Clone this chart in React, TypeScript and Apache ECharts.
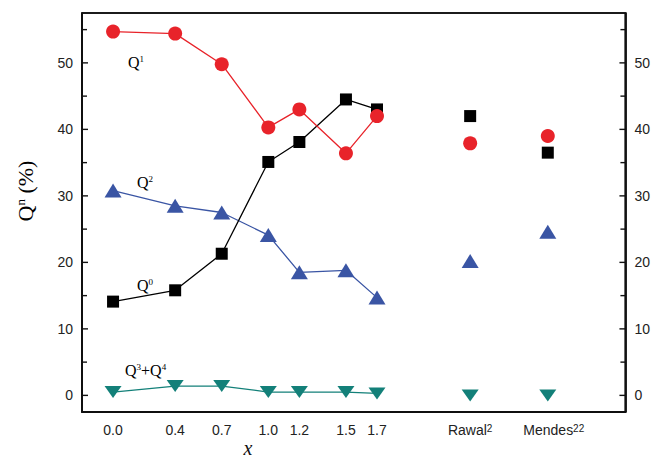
import React, { useEffect, useRef } from "react";
import * as echarts from "echarts";

// x positions of the composition series
const xValues = [0.0, 0.4, 0.7, 1.0, 1.2, 1.5, 1.7];
// reference data positions on the same axis
const refX = [2.3, 2.8];
const refNames = ["Rawal", "Mendes"];
const refSup = ["2", "22"];

// Q^n (%) values
const q0 = [14.1, 15.8, 21.3, 35.1, 38.1, 44.5, 43.0];
const q1 = [54.7, 54.4, 49.8, 40.3, 43.0, 36.4, 42.0];
const q2 = [30.8, 28.5, 27.5, 24.1, 18.5, 18.8, 14.7];
const q34 = [0.5, 1.4, 1.4, 0.5, 0.5, 0.5, 0.3];

const q0Ref = [42.0, 36.5];
const q1Ref = [37.9, 39.0];
const q2Ref = [20.2, 24.6];
const q34Ref = [0.0, 0.0];

const yLabels = [0, 10, 20, 30, 40, 50];
const yTicks = [0, 5, 10, 15, 20, 25, 30, 35, 40, 45, 50, 55];

const X_MIN = -0.2;
const X_MAX = 3.3;
const Y_MIN = -2.5;
const Y_MAX = 57.5;

const RED = "#e8232a";
const BLUE = "#3a55a4";
const TEAL = "#138079";
const BLACK = "#000000";

const SERIF = "'Liberation Serif', 'Times New Roman', serif";

export default function App() {
  const ref = useRef<HTMLDivElement>(null);
  useEffect(() => {
    document.body.style.margin = "0";
    const chart = echarts.init(ref.current!, null, { renderer: "svg" });

    const xFormatter = (v: number) => {
      const k = Math.round(v * 10);
      for (let i = 0; i < xValues.length; i++) {
        if (Math.round(xValues[i] * 10) === k) return xValues[i].toFixed(1);
      }
      for (let i = 0; i < refX.length; i++) {
        if (Math.round(refX[i] * 10) === k) {
          const pad = i === 1 ? "{sp|}" : "";
          return pad + "{a|" + refNames[i] + "}{s|" + refSup[i] + "}";
        }
      }
      return "";
    };

    const lineSeries = (data: number[], color: string, symbol: string, size: any, rotate = 0) => ({
      type: "line",
      data: xValues.map((x, i) => [x, data[i]]),
      symbol,
      symbolSize: size,
      symbolRotate: rotate,
      showSymbol: true,
      itemStyle: { color, opacity: 1 },
      lineStyle: { color, width: 1.3 },
    });
    const refSeries = (data: number[], color: string, symbol: string, size: any, rotate = 0) => ({
      type: "line",
      data: refX.map((x, i) => [x, data[i]]),
      symbol,
      symbolSize: size,
      symbolRotate: rotate,
      showSymbol: true,
      itemStyle: { color, opacity: 1 },
      lineStyle: { color, width: 0, opacity: 0 },
    });

    const yAxisBase = (position: string) => ({
      type: "value",
      position,
      min: Y_MIN,
      max: Y_MAX,
      axisLine: { show: true, onZero: false, lineStyle: { color: "black", width: 1.6 } },
      axisTick: { show: false },
      axisLabel: { customValues: yLabels, fontSize: 14, color: "#222222", margin: 9 },
      splitLine: { show: false },
    });

    chart.setOption({
      animation: false,
      grid: { left: 82, right: 26, top: 13, bottom: 47, show: true, borderColor: "black", borderWidth: 1.6 },
      xAxis: {
        type: "value",
        min: X_MIN,
        max: X_MAX,
        interval: 0.1,
        axisLine: { show: true, onZero: false, lineStyle: { color: "black", width: 1.6 } },
        splitLine: { show: false },
        axisTick: { show: false },
        axisLabel: {
          formatter: xFormatter,
          fontSize: 14,
          color: "#222222",
          margin: 11,
          rich: {
            a: { fontSize: 14, color: "#222222" },
            s: { fontSize: 10, color: "#222222", verticalAlign: "top" },
            sp: { width: 12 },
          },
        },
      },
      yAxis: [yAxisBase("left"), yAxisBase("right")],
      series: [
        lineSeries(q2, BLUE, "triangle", [17, 14]),
        refSeries(q2Ref, BLUE, "triangle", [17, 14]),
        lineSeries(q0, BLACK, "rect", 12),
        refSeries(q0Ref, BLACK, "rect", 12),
        lineSeries(q34, TEAL, "triangle", [17, 12], 180),
        refSeries(q34Ref, TEAL, "triangle", [17, 12], 180),
        lineSeries(q1, RED, "circle", 14),
        refSeries(q1Ref, RED, "circle", 14),
      ],
    });

    // frame edges and inward ticks, positioned through the chart's own scales
    const px = (x: number, y: number) => chart.convertToPixel({ gridIndex: 0 }, [x, y]) as number[];
    const frameStyle = { stroke: "#111111", lineWidth: 1.6 };
    const tickStyle = { stroke: "#111111", lineWidth: 1.4 };
    const bl = px(X_MIN, Y_MIN);
    const tl = px(X_MIN, Y_MAX);
    const br = px(X_MAX, Y_MIN);
    const tr = px(X_MAX, Y_MAX);
    const frame: any[] = [
      { type: "line", z: 100, shape: { x1: bl[0], y1: bl[1], x2: tl[0], y2: tl[1] }, style: frameStyle },
      { type: "line", z: 100, shape: { x1: br[0], y1: br[1], x2: tr[0], y2: tr[1] }, style: frameStyle },
      { type: "line", z: 100, shape: { x1: tl[0], y1: tl[1], x2: tr[0], y2: tr[1] }, style: frameStyle },
      { type: "line", z: 100, shape: { x1: bl[0], y1: bl[1], x2: br[0], y2: br[1] }, style: frameStyle },
    ];
    const ticks: any[] = [];
    yTicks.forEach((t) => {
      const len = t % 10 === 0 ? 6 : 5;
      const l = px(X_MIN, t);
      const r = px(X_MAX, t);
      ticks.push({ type: "line", z: 100, shape: { x1: l[0], y1: l[1], x2: l[0] + len, y2: l[1] }, style: tickStyle });
      ticks.push({ type: "line", z: 100, shape: { x1: r[0] - len, y1: r[1], x2: r[0], y2: r[1] }, style: tickStyle });
    });

    const supText = {
      q: { fontSize: 16, fontFamily: SERIF, color: "#111111" },
      s: { fontSize: 9, fontFamily: SERIF, color: "#111111", verticalAlign: "top" },
    };
    const annot = (text: string, x: number, y: number) => ({
      type: "text",
      x,
      y,
      z: 100,
      style: { text, rich: supText, verticalAlign: "middle", align: "left" },
    });

    chart.setOption({
      graphic: [
        ...frame,
        ...ticks,
        annot("{q|Q}{s|1}", 128, 62),
        annot("{q|Q}{s|2}", 137, 182),
        annot("{q|Q}{s|0}", 137, 285),
        annot("{q|Q}{s|3}{q|+Q}{s|4}", 125, 370),
        {
          type: "text",
          x: 25,
          y: 191,
          z: 100,
          rotation: Math.PI / 2,
          style: {
            text: "{q|Q}{n|n}{q| (%)}",
            rich: {
              q: { fontSize: 22, fontFamily: SERIF, color: "#111111" },
              n: { fontSize: 13, fontFamily: SERIF, color: "#111111", verticalAlign: "top" },
            },
            align: "center",
            verticalAlign: "middle",
          },
        },
        {
          type: "text",
          x: 248,
          y: 458,
          z: 100,
          style: {
            text: "x",
            fontSize: 20,
            fontStyle: "italic",
            fontFamily: SERIF,
            fill: "#111111",
            align: "center",
            verticalAlign: "bottom",
          },
        },
      ],
    });
    return () => chart.dispose();
  }, []);
  return <div ref={ref} style={{ position: "absolute", left: 0, top: 0, width: 653, height: 459 }} />;
}
